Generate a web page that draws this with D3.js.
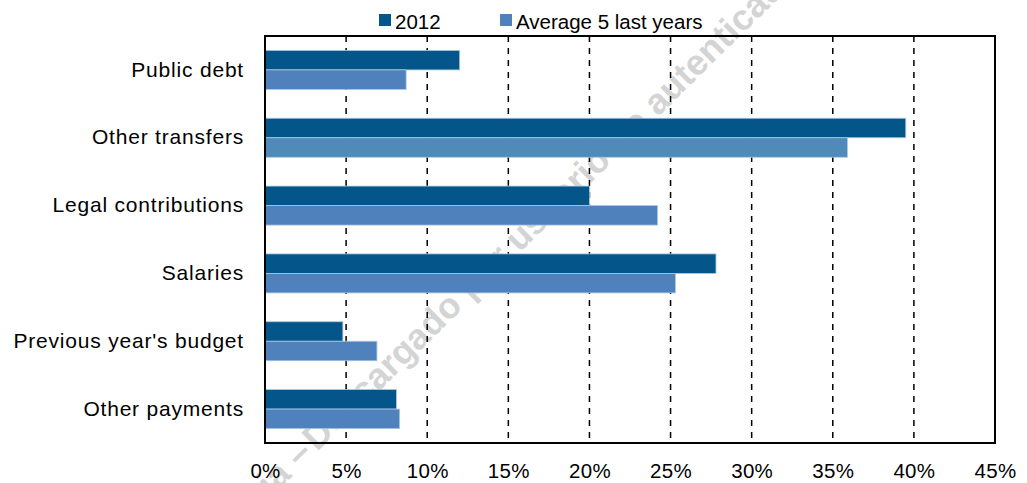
<!DOCTYPE html>
<html><head><meta charset="utf-8">
<script src="https://cdn.jsdelivr.net/npm/d3@7"></script>
<style>body{margin:0;background:#fff}svg{display:block}text{font-family:"Liberation Sans",Arial,sans-serif}</style>
</head><body>
<svg id="c" width="1027" height="483"></svg>
<script>
const categories = ["Public debt","Other transfers","Legal contributions","Salaries","Previous year's budget","Other payments"];
const seriesNames = ["2012","Average 5 last years"];
const values2012 = [0.12, 0.395, 0.20, 0.278, 0.048, 0.081];
const valuesAvg = [0.087, 0.359, 0.242, 0.253, 0.069, 0.083];
const xTicks = [0,0.05,0.10,0.15,0.20,0.25,0.30,0.35,0.40,0.45];

const svg = d3.select("#c");
const m = {l:265, r:995, t:36, b:443};
const x = d3.scaleLinear().domain([0,0.45]).range([m.l, m.r]);
const y = d3.scaleBand().domain(categories).range([m.t, m.b]).paddingInner(0.425).paddingOuter(0.2125);
const y1 = d3.scaleBand().domain(seriesNames).range([0, y.bandwidth()]).padding(0);
const colors = {"2012":"#03558a","Average 5 last years":"#4f81bd"};
const colorFor = (s, c) => (s === seriesNames[1] && c === "Other transfers") ? "#4f8bb8" : colors[s];

// watermark (behind everything)
const wm = svg.append("g").attr("transform","translate(317,452) rotate(-44.5)")
  .attr("fill","#d4d4d4").style("font-size","36px").style("font-weight","bold");
wm.append("text").attr("text-anchor","start").text("Descargado por usuario no autenticado");
wm.append("text").attr("text-anchor","end").attr("x",-4).text("Copia – ");

// gridlines
svg.append("g").selectAll("line").data(xTicks.slice(1,-1)).join("line")
  .attr("x1",d=>x(d)).attr("x2",d=>x(d)).attr("y1",m.t).attr("y2",m.b)
  .attr("stroke","#000").attr("stroke-width",1.5).attr("stroke-dasharray","6,6");

// bars
const data = categories.map((c,i)=>({c, vals:[{s:seriesNames[0],v:values2012[i]},{s:seriesNames[1],v:valuesAvg[i]}]}));
const g = svg.append("g").selectAll("g").data(data).join("g").attr("transform",d=>`translate(0,${y(d.c)})`);
g.selectAll("rect").data(d=>d.vals.map(v=>({...v,c:d.c}))).join("rect")
  .attr("x",x(0)).attr("y",d=>y1(d.s)).attr("height",y1.bandwidth())
  .attr("width",d=>x(d.v)-x(0)).attr("fill",d=>colorFor(d.s,d.c))
  .attr("stroke","#a9c6e3").attr("stroke-width",0.8);

// frame
svg.append("rect").attr("x",m.l).attr("y",m.t).attr("width",m.r-m.l).attr("height",m.b-m.t)
  .attr("fill","none").attr("stroke","#000").attr("stroke-width",2);

// x axis labels
const xAxis = d3.axisBottom(x).tickValues(xTicks).tickFormat(d3.format(".0%")).tickSize(0).tickPadding(20);
const xa = svg.append("g").attr("transform",`translate(0,${m.b})`).call(xAxis);
xa.select(".domain").remove();
xa.selectAll("text").style("font-size","20.5px").style("letter-spacing","0.3px").attr("fill","#000").attr("font-family","Liberation Sans, Arial, sans-serif");

// y axis labels
const yAxis = d3.axisLeft(y).tickSize(0).tickPadding(21);
const ya = svg.append("g").attr("transform",`translate(${m.l},0)`).call(yAxis);
ya.select(".domain").remove();
ya.selectAll("text").style("font-size","21px").style("letter-spacing","0.8px").attr("fill","#000").attr("font-family","Liberation Sans, Arial, sans-serif");

// legend
const legX = [379, 500];
const leg = svg.append("g").selectAll("g").data(seriesNames).join("g")
  .attr("transform",(d,i)=>`translate(${legX[i]},14)`);
leg.append("rect").attr("width",12).attr("height",12).attr("fill",d=>colors[d]);
leg.append("text").attr("x",16).attr("y",15).style("font-size","20.5px").attr("fill","#000").text(d=>d);
</script>
</body></html>
